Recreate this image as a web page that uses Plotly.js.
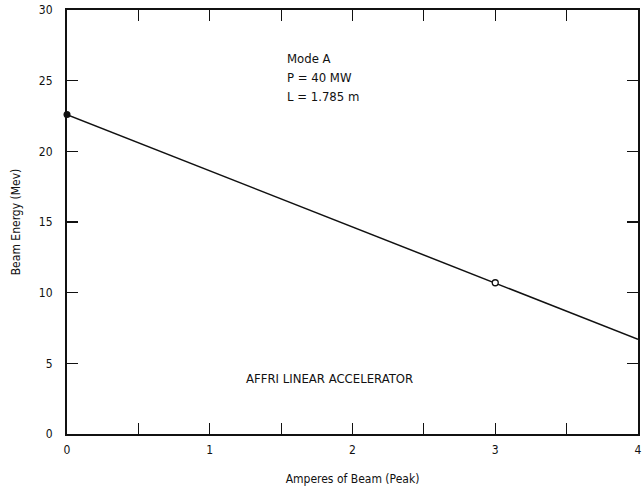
<!DOCTYPE html>
<html>
<head>
<meta charset="utf-8">
<script src="https://cdn.plot.ly/plotly-3.0.1.min.js"></script>
<style>html,body{margin:0;padding:0;background:#fff;}#chart{width:642px;height:490px;}</style>
</head>
<body>
<div id="chart"></div>
<script>
// Data
const lineX = [0, 4];
const lineY = [22.6, 6.7];
const filledX = [0];
const filledY = [22.6];
const openX = [3];
const openY = [10.7];
const xTickVals = [0, 0.5, 1, 1.5, 2, 2.5, 3, 3.5, 4];
const xTickText = ['0', '', '1', '', '2', '', '3', '', '4'];
const yTickVals = [0, 5, 10, 15, 20, 25, 30];
const yTickText = ['0', '5', '10', '15', '20', '25', '30'];
const noteLines = ['Mode A', 'P = 40 MW', 'L = 1.785 m'];
const chartLabel = 'AFFRI LINEAR ACCELERATOR';

const FONT = '"Liberation Sans Narrow", "DejaVu Sans Condensed", "Liberation Sans", sans-serif';

const traces = [
  {x: lineX, y: lineY, mode: 'lines', line: {color: '#111', width: 1.5}, hoverinfo: 'skip', cliponaxis: false},
  {x: filledX, y: filledY, mode: 'markers', marker: {color: '#111', size: 7, symbol: 'circle'}, cliponaxis: false},
  {x: openX, y: openY, mode: 'markers', marker: {color: '#fff', size: 6, symbol: 'circle', line: {color: '#111', width: 1.3}}, cliponaxis: false}
];

const layout = {
  width: 642, height: 490,
  margin: {l: 67, r: 4, t: 10, b: 56},
  paper_bgcolor: '#fff', plot_bgcolor: '#fff',
  showlegend: false,
  font: {family: FONT, size: 12, color: '#111'},
  xaxis: {
    range: [0, 4], tickvals: xTickVals, ticktext: xTickText,
    ticks: 'inside', ticklen: 11, tickwidth: 1.2, tickcolor: '#111',
    showline: true, linecolor: '#111', linewidth: 2, mirror: 'ticks',
    showgrid: false, zeroline: false,
    tickfont: {size: 12}, ticklabelstandoff: 4,
    title: {text: 'Amperes of Beam (Peak)', font: {size: 12}, standoff: 18}
  },
  yaxis: {
    range: [0, 30], tickvals: yTickVals, ticktext: yTickText,
    ticks: 'inside', ticklen: 11, tickwidth: 1.2, tickcolor: '#111',
    showline: true, linecolor: '#111', linewidth: 2, mirror: 'ticks',
    showgrid: false, zeroline: false,
    tickfont: {size: 12}, ticklabelstandoff: 10,
    title: {text: 'Beam Energy (Mev)', font: {size: 12}, standoff: 16}
  },
  annotations: [
    {x: 1.53, y: 26.6, xref: 'x', yref: 'y', text: noteLines[0], showarrow: false, xanchor: 'left', yanchor: 'middle', font: {size: 13}},
    {x: 1.53, y: 25.2, xref: 'x', yref: 'y', text: noteLines[1], showarrow: false, xanchor: 'left', yanchor: 'middle', font: {size: 13}},
    {x: 1.53, y: 23.85, xref: 'x', yref: 'y', text: noteLines[2], showarrow: false, xanchor: 'left', yanchor: 'middle', font: {size: 13}},
    {x: 1.84, y: 3.96, xref: 'x', yref: 'y', text: chartLabel, showarrow: false, xanchor: 'center', yanchor: 'middle', font: {size: 13}}
  ]
};

Plotly.newPlot('chart', traces, layout, {displayModeBar: false, staticPlot: true});
</script>
</body>
</html>
